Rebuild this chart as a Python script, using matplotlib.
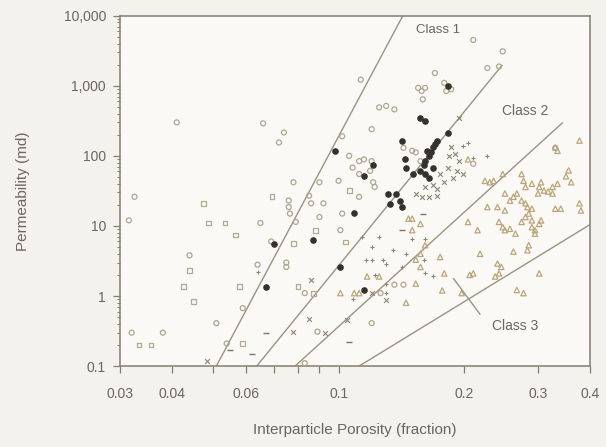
import matplotlib
matplotlib.use('Agg')
from matplotlib import pyplot as plt
from matplotlib.ticker import FixedLocator, NullFormatter, FuncFormatter, LogLocator

plt.rcParams['font.family'] = ['Liberation Sans', 'DejaVu Sans']

# ---- data: interparticle porosity (fraction) vs permeability (md) ----
circ_x = [0.032, 0.0325, 0.0315, 0.038, 0.041, 0.044, 0.059, 0.051, 0.054, 0.065, 0.064, 0.066,
          0.072, 0.074, 0.069, 0.075, 0.075, 0.078, 0.076, 0.076, 0.0765, 0.079, 0.085, 0.086,
          0.09, 0.092, 0.09, 0.083, 0.089, 0.083, 0.102, 0.113, 0.12, 0.1, 0.102, 0.101, 0.112,
          0.126, 0.12, 0.136, 0.143, 0.106, 0.108, 0.112, 0.115, 0.12, 0.119, 0.112, 0.121,
          0.122, 0.125, 0.13, 0.136, 0.143, 0.15, 0.153, 0.157, 0.155, 0.158, 0.159, 0.161,
          0.17, 0.179, 0.181, 0.186, 0.21, 0.227, 0.242, 0.247, 0.21, 0.33]
circ_y = [0.3, 26, 12, 0.3, 300, 3.8, 0.67, 0.41, 0.21, 11, 2.8, 290,
          155, 215, 6, 3.0, 2.6, 42, 23, 18.6, 15, 11.4, 27, 21,
          42, 21, 13.4, 1.1, 0.31, 0.11, 190, 1220, 240, 44, 15, 8.7, 26,
          1.1, 0.41, 1.45, 1.45, 100, 68, 84, 89, 84, 61, 55, 42,
          36, 490, 515, 460, 130, 118, 112, 84, 930, 840, 640, 930,
          1520, 1100, 840, 890, 4500, 1790, 1880, 3090, 77, 130]

sq_x = [0.0333, 0.0356, 0.0475, 0.044, 0.0425, 0.045, 0.0489, 0.0535, 0.0568, 0.058, 0.059,
        0.0693, 0.078, 0.08, 0.087, 0.088, 0.104, 0.106]
sq_y = [0.2, 0.2, 21, 2.3, 1.36, 0.84, 11, 11, 7.4, 1.36, 0.21,
        26, 5.6, 1.36, 1.1, 8.7, 5.9, 32]

fill_x = [0.067, 0.07, 0.087, 0.098, 0.109, 0.101, 0.115, 0.115, 0.121, 0.131, 0.137, 0.133,
          0.14, 0.142, 0.144, 0.145, 0.142, 0.157, 0.161, 0.151, 0.157, 0.16, 0.161, 0.165,
          0.163, 0.166, 0.168, 0.17, 0.172, 0.183, 0.161, 0.165, 0.168, 0.183]
fill_y = [1.36, 5.6, 6.2, 118, 15.5, 2.6, 1.2, 52, 73, 29, 29, 20.7,
          23, 18.6, 89, 68, 165, 350, 314, 55, 61, 73, 84, 100,
          118, 112, 132, 147, 165, 214, 55, 49, 68, 985]

cross_x = [0.0485, 0.086, 0.085, 0.078, 0.093, 0.12, 0.105, 0.13, 0.161, 0.168, 0.172, 0.179,
           0.184, 0.19, 0.194, 0.188, 0.199, 0.175, 0.183, 0.192, 0.153, 0.158, 0.165, 0.172,
           0.186, 0.194]
cross_y = [0.12, 1.7, 0.47, 0.31, 0.3, 1.1, 0.46, 0.88, 36, 38, 34, 42,
           100, 106, 84, 49, 55, 55, 68, 61, 29, 26, 26, 27,
           132, 350]

plus_x = [0.064, 0.114, 0.12, 0.125, 0.128, 0.116, 0.12, 0.13, 0.142, 0.13, 0.13, 0.15,
          0.161, 0.16, 0.161, 0.168, 0.199, 0.204, 0.21, 0.227, 0.135, 0.145, 0.122, 0.108]
plus_y = [2.2, 7, 5.0, 7, 3.3, 3.3, 3.3, 2.9, 2.6, 1.5, 1.1, 6.6,
          6.6, 3.3, 2.1, 1.9, 140, 150, 94, 100, 4.5, 4.0, 2.0, 0.9]

dash_x = [0.055, 0.062, 0.067, 0.106, 0.159, 0.142]
dash_y = [0.17, 0.15, 0.3, 0.22, 15, 8.7]

tri_x = [0.101, 0.109, 0.112, 0.117, 0.125, 0.153, 0.145, 0.147, 0.15, 0.157, 0.15, 0.157,
         0.161, 0.153, 0.157, 0.175, 0.177, 0.179, 0.197, 0.204, 0.224, 0.23, 0.235, 0.247,
         0.25, 0.274, 0.277, 0.28, 0.29, 0.305, 0.325, 0.334, 0.35, 0.355, 0.36, 0.377,
         0.33, 0.334, 0.227, 0.24, 0.25, 0.257, 0.262, 0.267, 0.274, 0.28, 0.283, 0.29,
         0.3, 0.302, 0.31, 0.317, 0.325, 0.33, 0.34, 0.377, 0.38, 0.242, 0.247, 0.25,
         0.257, 0.265, 0.274, 0.28, 0.285, 0.29, 0.29, 0.295, 0.302, 0.305, 0.295, 0.204,
         0.215, 0.218, 0.21, 0.206, 0.24, 0.245, 0.242, 0.237, 0.262, 0.283, 0.285, 0.267,
         0.277, 0.302]
tri_y = [1.1, 1.1, 1.1, 1.9, 1.9, 1.5, 0.8, 12.7, 12.7, 10.7, 8.7, 4.0,
         5.3, 3.3, 2.6, 3.6, 1.2, 2.1, 1.1, 89, 44, 42, 44, 55,
         29, 55, 44, 36, 40, 42, 36, 40, 51, 62, 42, 165,
         132, 118, 18.6, 18.6, 16.6, 23, 26, 29, 23, 21, 18.6, 17.6,
         29, 36, 32, 31, 29, 17.6, 17.6, 21, 16.6, 11.4, 9.6, 8.7,
         9.1, 7.76, 11.4, 13.4, 15, 12, 9.6, 8.7, 10.7, 12, 7.76, 11.4,
         8.7, 4.0, 2.1, 2.0, 2.9, 2.6, 2.1, 1.9, 4.3, 4.5, 5.3, 1.22,
         1.1, 2.1]

# class boundary lines (porosity, permeability end points)
class_lines = [([0.051, 0.1425], [0.1, 10000]),
               ([0.0637, 0.246], [0.1, 1950]),
               ([0.0787, 0.343], [0.1, 295]),
               ([0.112, 0.4], [0.1, 10.5])]

x_ticks = [0.03, 0.04, 0.06, 0.1, 0.2, 0.3, 0.4]
x_labels = ['0.03', '0.04', '0.06', '0.1', '0.2', '0.3', '0.4']
x_minor = [0.05, 0.07, 0.08, 0.09]
y_ticks = [0.1, 1, 10, 100, 1000, 10000]

txt = '#6b665e'
edge = '#857d70'

fig = plt.figure(figsize=(6.06, 4.47), dpi=100, facecolor='#f4f2ec')
ax = fig.add_axes([0.198, 0.181, 0.776, 0.784], facecolor='#faf9f5')
ax.set_xscale('log')
ax.set_yscale('log')
ax.set_xlim(0.03, 0.4)
ax.set_ylim(0.1, 10000)

for lx, ly in class_lines:
    ax.plot(lx, ly, color='#9c9282', lw=1.0, zorder=2)

ax.scatter(circ_x, circ_y, s=13, facecolors='none', edgecolors='#b0a58f', linewidths=0.9, zorder=3)
ax.scatter(sq_x, sq_y, s=12, marker='s', facecolors='none', edgecolors='#b4a992', linewidths=0.9, zorder=3)
ax.scatter(tri_x, tri_y, s=15, marker='^', facecolors='none', edgecolors='#bba57a', linewidths=0.9, zorder=3)
ax.scatter(cross_x, cross_y, s=12, marker='x', color='#8e8472', linewidths=0.8, zorder=3)
ax.scatter(plus_x, plus_y, s=12, marker='+', color='#8e8472', linewidths=0.8, zorder=3)
ax.scatter(dash_x, dash_y, s=16, marker='_', color='#7d7466', linewidths=1.0, zorder=3)
ax.scatter(fill_x, fill_y, s=14, color='#34302c', edgecolors='#34302c', zorder=4)

ax.annotate('', xy=(0.22, 0.51), xytext=(0.1866, 1.91),
            arrowprops=dict(arrowstyle='-', color='#9c9282', lw=1.0))
ax.text(0.173, 6200, 'Class 1', color=txt, fontsize=9.5, ha='center', va='center')
ax.text(0.279, 443, 'Class 2', color=txt, fontsize=10, ha='center', va='center')
ax.text(0.265, 0.368, 'Class 3', color=txt, fontsize=10, ha='center', va='center')

ax.xaxis.set_major_locator(FixedLocator(x_ticks))
ax.xaxis.set_major_formatter(FuncFormatter(lambda v, p: x_labels[x_ticks.index(min(x_ticks, key=lambda t: abs(t - v)))]))
ax.xaxis.set_minor_locator(FixedLocator(x_minor))
ax.xaxis.set_minor_formatter(NullFormatter())
ax.yaxis.set_major_locator(FixedLocator(y_ticks))
ax.yaxis.set_major_formatter(FuncFormatter(lambda v, p: ('%g' % v) if v < 1000 else '{:,}'.format(int(round(v)))))
ax.yaxis.set_minor_locator(LogLocator(base=10, subs=range(2, 10)))
ax.yaxis.set_minor_formatter(NullFormatter())

ax.tick_params(axis='both', which='major', direction='out', length=5, width=0.9,
               color=edge, labelcolor=txt, labelsize=10)
ax.tick_params(axis='x', which='major', pad=10)
ax.tick_params(axis='y', which='major', pad=5)
ax.tick_params(axis='x', which='minor', direction='out', length=5, width=0.9, color=edge)
ax.tick_params(axis='y', which='minor', direction='out', length=2, width=0.7, color=edge)
for s in ax.spines.values():
    s.set_color(edge)
    s.set_linewidth(1.1)

ax.set_xlabel('Interparticle Porosity (fraction)', color=txt, fontsize=11, labelpad=16)
ax.set_ylabel('Permeability (md)', color=txt, fontsize=11, labelpad=24)

fig.savefig('out.png', dpi=100, facecolor=fig.get_facecolor())
